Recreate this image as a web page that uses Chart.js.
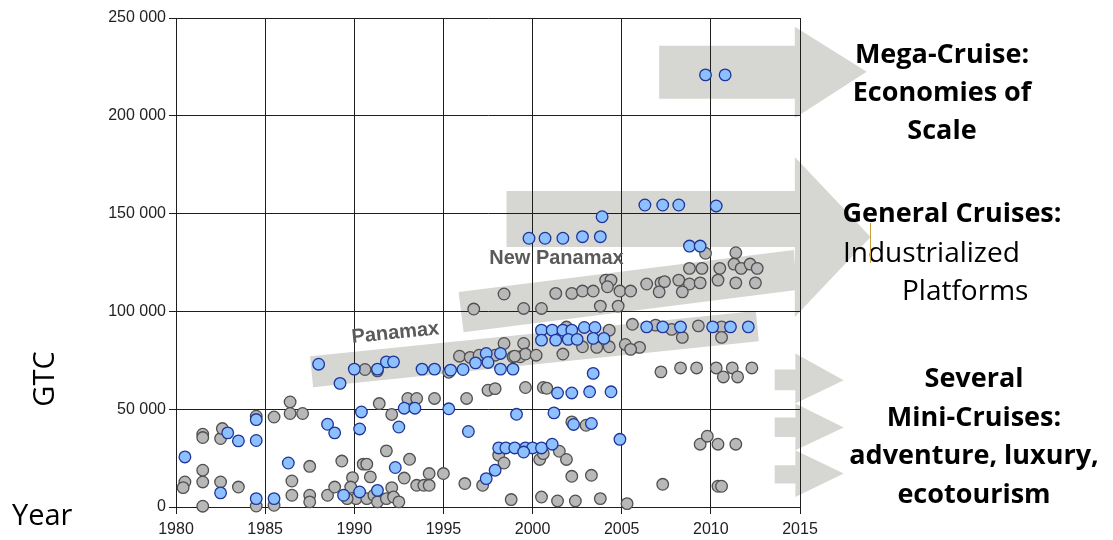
<!DOCTYPE html>
<html><head><meta charset="utf-8">
<script src="https://cdn.jsdelivr.net/npm/chart.js@4.4.1/dist/chart.umd.min.js"></script>
<style>
html,body{margin:0;padding:0;background:#fff;}
#wrap{position:relative;width:1113px;height:540px;overflow:hidden;background:#fff;}
#c{position:absolute;left:0;top:0;}
.t{position:absolute;font-family:"Open Sans",sans-serif;font-size:28px;line-height:28px;color:#000;white-space:nowrap;}
.b{font-weight:bold;font-size:27px;}
</style></head><body>
<div id="wrap"><canvas id="c" width="1113" height="540"></canvas></div>
<script>
// ---------- data ----------
const grayYears = [1986.4,1985.5,1986.4,1987.1,1984.5,1981.5,1981.5,1982.5,1982.6,1981.5,1980.5,1980.4,1981.5,1982.5,1983.5,1981.5,1984.5,1985.5,1986.5,1986.5,
1987.5,1987.5,1987.5,1988.5,1988.9,1989.3,1989.9,1990.5,1990.7,1990.9,1989.8,1990.1,1990.7,1991.1,1991.3,1991.8,1992.1,1992.2,1992.5,1989.6,
1991.4,1992.1,1993.0,1993.5,1994.5,1996.3,1991.8,1993.1,1992.8,1994.2,1995.0,1993.5,1993.9,1994.2,1996.2,1997.2,1997.5,1997.9,1999.6,2000.6,
2000.8,2002.2,2003.0,1998.1,1998.4,2000.4,2000.6,2001.5,2001.9,2002.2,2003.3,1998.8,2000.5,2001.4,2002.4,2003.8,2005.3,2007.3,2009.4,2009.8,
2010.4,2011.4,2010.4,2010.6,2007.2,2008.3,2009.2,2010.3,2010.7,2011.2,2011.5,2012.3,1990.6,1991.3,1995.3,1995.9,1996.5,1997.0,1997.9,1998.4,
1998.9,1999.3,1999.5,1999.6,2000.2,1996.7,1998.4,1999.5,2000.5,2001.3,2002.2,2002.8,2003.4,2004.1,2004.4,2004.2,2003.8,2004.8,2004.9,2005.5,
2006.4,2007.2,2007.4,2007.1,2008.2,2008.8,2009.4,2008.4,2008.8,2009.5,2010.5,2010.4,2009.7,2011.4,2011.3,2011.7,2012.2,2012.6,2011.4,2012.5,
2004.3,2002.8,2003.6,2004.3,2005.2,2006.0,2001.7,2005.6,2006.9,2007.8,2008.4,2009.3,2010.6,2010.6,1999.0,2001.9,2005.5];
const grayGT = [53700,46000,47800,47800,46400,37200,35500,35000,40100,18800,12800,9900,12800,12800,10200,400,500,900,13300,6000,
20800,6000,2600,6000,10200,23500,15000,21900,21900,15400,10200,4300,4300,6000,2600,4300,9900,5100,2600,4300,
52900,47300,55500,55500,55500,55500,28700,24400,14800,17100,17100,11100,11100,11100,12000,11100,59700,60500,61100,61100,
60700,43500,41800,26500,22500,24300,27300,28500,24300,15700,16200,3800,5100,3100,3100,4300,1700,11600,32100,36200,
32100,32100,10600,10600,69100,71100,71100,71100,66500,71100,66500,71100,70300,69600,68900,77100,76500,77600,77600,83600,
76800,76800,83600,78200,77600,101200,108900,101500,101500,109200,109200,110400,110400,116000,116000,112600,102700,102700,110400,110400,
114000,114600,115200,110000,116000,114000,114600,110000,122000,122000,122000,116000,129700,130000,124200,122000,124200,122000,114600,114600,
90400,81900,81600,81900,83100,81600,78200,93400,93000,90800,86700,92600,92100,86700,77100,92000,80600];

const blueYears = [1989.2,1980.5,1982.9,1983.5,1984.5,1984.5,1982.5,1984.5,1985.5,1986.3,1988.5,1988.9,1990.4,1990.3,1992.8,1993.4,1992.5,1995.3,1996.4,1992.3,
1989.4,1990.3,1991.3,1997.4,1997.9,2001.4,2002.2,2003.2,2004.4,1999.1,2001.2,2002.3,2003.3,2004.9,1998.1,1998.5,1999.0,1999.6,2000.0,2000.5,
2001.1,1999.5,2003.4,1988.0,1990.0,1991.3,1991.8,1992.2,1993.8,1994.5,1995.4,1996.1,1996.8,1997.4,1997.5,1998.2,1998.2,1998.9,
2000.5,2001.1,2001.7,2002.2,2002.9,2003.5,2000.5,2001.3,2002.0,2002.5,2003.4,2004.0,2006.4,2007.3,2008.3,2010.1,2011.1,2012.1,
1999.8,2000.7,2001.7,2002.8,2003.8,2003.9,2006.3,2007.3,2008.2,2010.3,2008.8,2009.4,2009.7,2010.8];
const blueGT = [63200,25600,37900,33800,44700,34000,7200,4300,4300,22500,42300,37900,48600,39900,50500,50500,40900,50200,38600,20200,
6000,7700,8500,14500,18800,58300,58300,58900,58900,47400,48100,42200,42700,34600,30200,30200,30200,30200,30200,30200,
32100,28100,68300,73000,70500,70500,74200,74200,70500,70500,70000,70300,73700,78500,73900,78500,70500,70500,
90400,90400,90400,90400,91800,91800,85300,85300,85700,85700,86200,86200,92100,92100,92100,92100,92100,92100,
137400,137400,137400,138200,138200,148400,154400,154400,154400,153900,133400,133400,220900,220900];

const yearTicks = [1980,1985,1990,1995,2000,2005,2010,2015];
const gtTicks = [0,50000,100000,150000,200000,250000];

// ---------- annotation shapes (in data units) ----------
const arrows = [
  {x0:2007.1,  xh:2014.71, xt:2018.74, top:235800, bot:208700, htop:245500, hbot:198900, tip:222500},
  {x0:1998.54, xh:2014.71, xt:2018.96, top:161600, bot:132900, htop:179000, hbot:97100,  tip:138000},
  {x0:2013.58, xh:2014.74, xt:2017.45, top:70300,  bot:59700,  htop:78500,  hbot:52900,  tip:64800},
  {x0:2013.58, xh:2014.74, xt:2017.45, top:45800,  bot:35800,  htop:52900,  hbot:29000,  tip:40600},
  {x0:2013.58, xh:2014.74, xt:2017.45, top:21300,  bot:12000,  htop:29000,  hbot:5100,   tip:17100}
];
const bands = [
  [[1987.52,77100],[2012.52,100150],[2012.69,84800],[1987.69,61260]],
  [[1995.85,109900],[2014.65,131350],[2014.82,110900],[1996.13,89400]]
];
const bandLabels = [
  {text:'Panamax', x:1992.3, y:88900, angle:-5.7},
  {text:'New Panamax', x:2001.34, y:127300, angle:0}
];

const shapesPlugin = {
  id:'shapes',
  beforeDraw(chart){
    const {ctx, scales:{x, y}} = chart;
    const px = v => x.getPixelForValue(v), py = v => y.getPixelForValue(v);
    ctx.save();
    ctx.fillStyle = '#d6d6d2';
    arrows.forEach(a => {
      ctx.beginPath();
      ctx.moveTo(px(a.x0), py(a.top));
      ctx.lineTo(px(a.xh), py(a.top));
      ctx.lineTo(px(a.xh), py(a.htop));
      ctx.lineTo(px(a.xt), py(a.tip));
      ctx.lineTo(px(a.xh), py(a.hbot));
      ctx.lineTo(px(a.xh), py(a.bot));
      ctx.lineTo(px(a.x0), py(a.bot));
      ctx.closePath();
      ctx.fill();
    });
    bands.forEach(b => {
      ctx.beginPath();
      b.forEach((p, i) => i ? ctx.lineTo(px(p[0]), py(p[1])) : ctx.moveTo(px(p[0]), py(p[1])));
      ctx.closePath();
      ctx.fill();
    });
    ctx.restore();
  },
  beforeDatasetsDraw(chart){
    const {ctx, scales:{x, y}} = chart;
    ctx.save();
    ctx.font = 'bold 20px "Liberation Sans", Arial, sans-serif';
    ctx.fillStyle = '#5a5a5a';
    ctx.textAlign = 'center';
    ctx.textBaseline = 'middle';
    bandLabels.forEach(l => {
      ctx.save();
      ctx.translate(x.getPixelForValue(l.x), y.getPixelForValue(l.y));
      ctx.rotate(l.angle * Math.PI / 180);
      ctx.fillText(l.text, 0, 0);
      ctx.restore();
    });
    ctx.restore();
  }
};

const fmt = v => String(v).replace(/\B(?=(\d{3})+(?!\d))/g, ' ');
const tickFont = {family:'"Liberation Sans", Arial, sans-serif', size:16};

new Chart(document.getElementById('c'), {
  type:'scatter',
  data:{datasets:[
    {label:'blue', data:blueYears.map((v,i)=>({x:v, y:blueGT[i]})), pointRadius:5.8, pointBorderWidth:1.3,
     backgroundColor:'#8cc0ff', borderColor:'#1f3596', clip:false},
    {label:'gray', data:grayYears.map((v,i)=>({x:v, y:grayGT[i]})), pointRadius:5.8, pointBorderWidth:1.3,
     backgroundColor:'#b8b8b8', borderColor:'#505050', clip:false}
  ]},
  options:{
    responsive:false, animation:false,
    layout:{padding:{left:0, right:313, top:18, bottom:0}},
    plugins:{legend:{display:false}, tooltip:{enabled:false}},
    scales:{
      x:{type:'linear', min:1980, max:2015,
         afterBuildTicks(s){ s.ticks = yearTicks.map(v=>({value:v})); },
         afterFit(s){ s.height = 33; },
         ticks:{font:tickFont, color:'#222', padding:6, maxRotation:0, callback:v=>String(v)},
         grid:{color:'#1e1e1e', lineWidth:1, tickLength:7, tickColor:'#1e1e1e'},
         border:{color:'#1e1e1e', width:1}},
      y:{type:'linear', min:0, max:250000,
         afterBuildTicks(s){ s.ticks = gtTicks.map(v=>({value:v})); },
         afterFit(s){ s.width = 176; },
         ticks:{font:tickFont, color:'#222', padding:3, callback:v=>fmt(v)},
         grid:{color:'#1e1e1e', lineWidth:1, tickLength:7, tickColor:'#1e1e1e'},
         border:{color:'#1e1e1e', width:1}}
    }
  },
  plugins:[shapesPlugin]
});

// ---------- text annotations ----------
const wrap = document.getElementById('wrap');
const notes = [
  ['Mega-Cruise:', 942, 64, 'c', true],
  ['Economies of', 942, 102, 'c', true],
  ['Scale', 942, 140, 'c', true],
  ['General Cruises:', 952, 223, 'c', true],
  ['Industrialized', 843, 262, 'l', false],
  ['Platforms', 902, 300, 'l', false],
  ['Several', 974, 388, 'c', true],
  ['Mini-Cruises:', 974, 427, 'c', true],
  ['adventure, luxury,', 974, 465, 'c', true],
  ['ecotourism', 974, 504, 'c', true]
];
notes.forEach(([txt, x, base, al, bold]) => {
  const d = document.createElement('div');
  d.className = 't' + (bold ? ' b' : '');
  d.textContent = txt;
  d.style.left = x + 'px';
  d.style.top = (base - 25) + 'px';
  if (al === 'c') d.style.transform = 'translateX(-50%)';
  wrap.appendChild(d);
});
const gtc = document.createElement('div');
gtc.className = 't'; gtc.textContent = 'GTC';
gtc.style.fontSize = '29px'; gtc.style.lineHeight = '29px';
gtc.style.left = '42px'; gtc.style.top = '379px';
gtc.style.transform = 'translate(-50%,-50%) rotate(-90deg)';
wrap.appendChild(gtc);
const yr = document.createElement('div');
yr.className = 't'; yr.textContent = 'Year';
yr.style.fontSize = '29px'; yr.style.lineHeight = '29px';
yr.style.left = '12px'; yr.style.top = '499px';
wrap.appendChild(yr);
const caret = document.createElement('div');
caret.style.cssText = 'position:absolute;left:870px;top:223px;width:1px;height:40px;background:#c9a43c;';
wrap.appendChild(caret);
</script>
</body></html>
